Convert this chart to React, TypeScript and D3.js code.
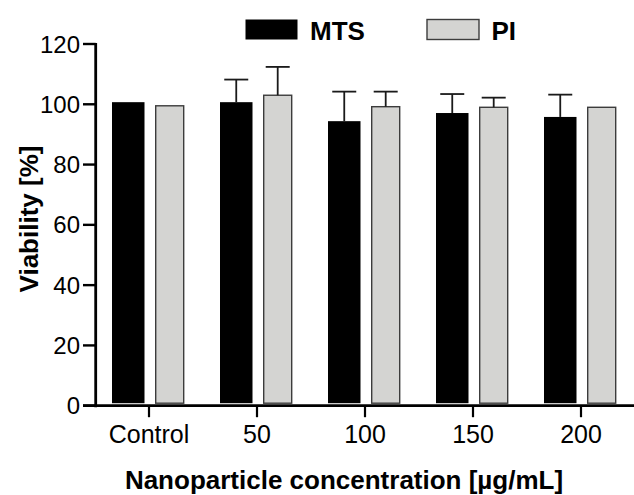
import React, { useEffect, useRef } from 'react';
import * as d3 from 'd3';

const categories = ['Control', '50', '100', '150', '200'];
const mtsMean = [100.7, 100.7, 94.4, 97.1, 95.8];
const mtsSd = [0, 7.5, 9.8, 6.3, 7.4];
const piMean = [99.5, 103.0, 99.2, 99.0, 99.0];
const piSd = [0, 9.4, 5.0, 3.2, 0];
const yTicks = [0, 20, 40, 60, 80, 100, 120];

const App: React.FC = () => {
  const svgRef = useRef<SVGSVGElement>(null);

  useEffect(() => {
    if (!svgRef.current) return;
    const svg = d3.select(svgRef.current);
    svg.selectAll('*').remove();

    const font = '"Liberation Sans", Arial, Helvetica, sans-serif';
    const axisX = 95.7;
    const y = d3.scaleLinear().domain([0, 120]).range([405.7, 44]);
    const x = d3.scaleBand<string>().domain(categories).range([95, 635]).padding(0);
    const center = (c: string) => (x(c) ?? 0) + x.bandwidth() / 2;

    const series = [
      { name: 'MTS', mean: mtsMean, sd: mtsSd, off: -37, w: 32.5, fill: '#000000', stroke: 'none' },
      { name: 'PI', mean: piMean, sd: piSd, off: 6.7, w: 28, fill: '#d4d4d2', stroke: '#3c3c3c' },
    ];

    // bars
    series.forEach(s => {
      svg.append('g')
        .selectAll('rect')
        .data(categories)
        .enter()
        .append('rect')
        .attr('x', c => center(c) + s.off)
        .attr('y', (c, i) => y(s.mean[i]))
        .attr('width', s.w)
        .attr('height', (c, i) => y(0) - 2.5 - y(s.mean[i]))
        .attr('fill', s.fill)
        .attr('stroke', s.stroke)
        .attr('stroke-width', 1.4);

      // error bars (upper only)
      const eb = svg.append('g')
        .selectAll('g')
        .data(categories.filter((c, i) => s.sd[i] > 0))
        .enter()
        .append('g')
        .attr('stroke', '#1a1a1a')
        .attr('stroke-width', 1.8);
      eb.append('line')
        .attr('x1', c => center(c) + s.off + s.w / 2)
        .attr('x2', c => center(c) + s.off + s.w / 2)
        .attr('y1', c => y(s.mean[categories.indexOf(c)]))
        .attr('y2', c => { const i = categories.indexOf(c); return y(s.mean[i] + s.sd[i]); });
      eb.append('line')
        .attr('x1', c => center(c) + s.off + s.w / 2 - 12)
        .attr('x2', c => center(c) + s.off + s.w / 2 + 12)
        .attr('y1', c => { const i = categories.indexOf(c); return y(s.mean[i] + s.sd[i]); })
        .attr('y2', c => { const i = categories.indexOf(c); return y(s.mean[i] + s.sd[i]); });
    });

    // y axis
    svg.append('line')
      .attr('x1', axisX).attr('x2', axisX)
      .attr('y1', y(120) - 1).attr('y2', y(0) + 1.5)
      .attr('stroke', '#000').attr('stroke-width', 2.8);
    const yt = svg.append('g').selectAll('g').data(yTicks).enter().append('g');
    yt.append('line')
      .attr('x1', 83).attr('x2', axisX)
      .attr('y1', d => y(d)).attr('y2', d => y(d))
      .attr('stroke', '#000').attr('stroke-width', 2.4);
    yt.append('text')
      .attr('x', 80)
      .attr('y', d => y(d))
      .attr('dy', '0.36em')
      .attr('text-anchor', 'end')
      .style('font-family', font)
      .style('font-size', '24px')
      .text(d => d);

    // x axis
    svg.append('line')
      .attr('x1', 83).attr('x2', 634)
      .attr('y1', y(0)).attr('y2', y(0))
      .attr('stroke', '#000').attr('stroke-width', 2.8);
    const xt = svg.append('g').selectAll('g').data(categories).enter().append('g');
    xt.append('line')
      .attr('x1', c => center(c)).attr('x2', c => center(c))
      .attr('y1', y(0)).attr('y2', y(0) + 11.5)
      .attr('stroke', '#000').attr('stroke-width', 2.2);
    xt.append('text')
      .attr('x', c => center(c))
      .attr('y', 443.3)
      .attr('text-anchor', 'middle')
      .style('font-family', font)
      .style('font-size', '25px')
      .text(c => c);

    // axis titles
    svg.append('text')
      .attr('x', 344)
      .attr('y', 488.5)
      .attr('text-anchor', 'middle')
      .style('font-family', font)
      .style('font-size', '26px')
      .style('font-weight', 'bold')
      .text('Nanoparticle concentration [µg/mL]');
    svg.append('text')
      .attr('transform', 'translate(37.5,219) rotate(-90)')
      .attr('text-anchor', 'middle')
      .style('font-family', font)
      .style('font-size', '26px')
      .style('font-weight', 'bold')
      .text('Viability [%]');

    // legend
    const legendX = [245.5, 427];
    series.forEach((s, i) => {
      svg.append('rect')
        .attr('x', legendX[i])
        .attr('y', 19.5)
        .attr('width', 52)
        .attr('height', 20)
        .attr('fill', s.fill)
        .attr('stroke', s.stroke)
        .attr('stroke-width', 1.4);
      svg.append('text')
        .attr('x', legendX[i] + 64.5)
        .attr('y', 39.5)
        .style('font-family', font)
        .style('font-size', '26px')
        .style('font-weight', 'bold')
        .text(s.name);
    });
  }, []);

  return (
    <svg
      ref={svgRef}
      width={634}
      height={495}
      viewBox="0 0 634 495"
      style={{ position: 'absolute', left: 0, top: 0, background: '#fff' }}
    />
  );
};

export default App;
